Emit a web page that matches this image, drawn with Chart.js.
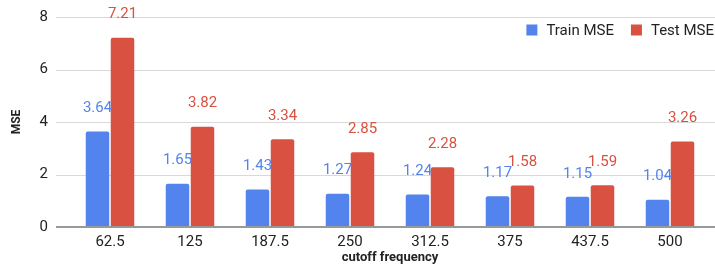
<!DOCTYPE html>
<html>
<head>
<meta charset="utf-8">
<script src="https://cdn.jsdelivr.net/npm/chart.js@4"></script>
<style>
  html, body { margin: 0; padding: 0; background: #fff; }
  #wrap { width: 715px; height: 270px; }
</style>
</head>
<body>
<div id="wrap"><canvas id="mseChart"></canvas></div>
<script>
const cutoffs = ["62.5", "125", "187.5", "250", "312.5", "375", "437.5", "500"];
const trainMse = [3.64, 1.65, 1.43, 1.27, 1.24, 1.17, 1.15, 1.04];
const testMse = [7.21, 3.82, 3.34, 2.85, 2.28, 1.58, 1.59, 3.26];
const yTickStep = 2;
const yMax = 8;

const BLUE = "#5383ec";
const RED = "#d95140";
const FONT = "Roboto, Arial, sans-serif";

// grid lines (reaching past the plot on the left), value labels, legend
const sheetStyle = {
  id: "sheetStyle",
  beforeDatasetsDraw(chart) {
    const ctx = chart.ctx, ys = chart.scales.y;
    const x0 = chart.chartArea.left - 14;
    ctx.save();
    ctx.strokeStyle = "#d9d9d9";
    ctx.lineWidth = 1;
    ys.ticks.forEach(t => {
      if (t.value === 0) return;
      const py = Math.round(ys.getPixelForValue(t.value)) + 0.5;
      ctx.beginPath();
      ctx.moveTo(x0, py);
      ctx.lineTo(chart.width, py);
      ctx.stroke();
    });
    ctx.restore();
  },
  afterDatasetsDraw(chart) {
    const ctx = chart.ctx, ys = chart.scales.y;
    ctx.save();
    // zero line
    const pz = Math.round(ys.getPixelForValue(0));
    ctx.strokeStyle = "#999999";
    ctx.lineWidth = 2;
    ctx.beginPath();
    ctx.moveTo(chart.chartArea.left - 14, pz);
    ctx.lineTo(chart.width, pz);
    ctx.stroke();
    // value labels
    ctx.font = "15px " + FONT;
    ctx.textAlign = "center";
    ctx.textBaseline = "middle";
    chart.data.datasets.forEach((ds, i) => {
      chart.getDatasetMeta(i).data.forEach((bar, j) => {
        ctx.fillStyle = ds.backgroundColor;
        ctx.fillText(ds.data[j].toFixed(2), bar.x, bar.y - 23);
      });
    });
    ctx.restore();
  },
  afterDraw(chart) {
    const ctx = chart.ctx;
    ctx.save();
    ctx.font = "15px " + FONT;
    ctx.textBaseline = "middle";
    const items = chart.data.datasets.map(ds => ({
      text: ds.label, color: ds.backgroundColor, w: ctx.measureText(ds.label).width
    }));
    let total = 0;
    items.forEach((it, i) => { total += 11 + 9 + it.w + (i < items.length - 1 ? 17 : 0); });
    let x = chart.width - 1 - total;
    const y = 30;
    items.forEach(it => {
      ctx.fillStyle = it.color;
      ctx.fillRect(x, y - 5.5, 11, 11);
      x += 11 + 9;
      ctx.fillStyle = "#222";
      ctx.fillText(it.text, x, y + 1);
      x += it.w + 17;
    });
    ctx.restore();
  }
};

new Chart(document.getElementById("mseChart"), {
  type: "bar",
  data: {
    labels: cutoffs,
    datasets: [
      { label: "Train MSE", data: trainMse, backgroundColor: BLUE, borderRadius: 2, borderSkipped: "bottom" },
      { label: "Test MSE", data: testMse, backgroundColor: RED, borderRadius: 2, borderSkipped: "bottom" }
    ]
  },
  options: {
    responsive: true,
    maintainAspectRatio: false,
    animation: false,
    layout: { padding: { top: 7, right: 5, left: 0, bottom: 4 } },
    datasets: {
      bar: { categoryPercentage: 0.625, barPercentage: 0.94 }
    },
    plugins: {
      legend: { display: false },
      tooltip: { enabled: false }
    },
    scales: {
      x: {
        afterFit: axis => { axis.height = 39; },
        grid: { display: false, drawTicks: false },
        border: { display: false },
        ticks: { color: "#222", font: { family: FONT, size: 15 }, padding: 6 },
        title: {
          display: true, text: "cutoff frequency", color: "#222",
          font: { family: FONT, size: 13, weight: "bold" }, padding: { top: 0, bottom: 0 }
        }
      },
      y: {
        min: 0, max: yMax,
        afterFit: axis => { axis.width = 70; },
        grid: { color: "rgba(0,0,0,0)", tickLength: 14 },
        border: { display: false },
        ticks: { stepSize: yTickStep, color: "#222", font: { family: FONT, size: 15 }, padding: 8 },
        title: {
          display: true, text: "MSE", color: "#222",
          font: { family: FONT, size: 12, weight: "bold" }, padding: { top: 10, bottom: 0 }
        }
      }
    }
  },
  plugins: [sheetStyle]
});
</script>
</body>
</html>
